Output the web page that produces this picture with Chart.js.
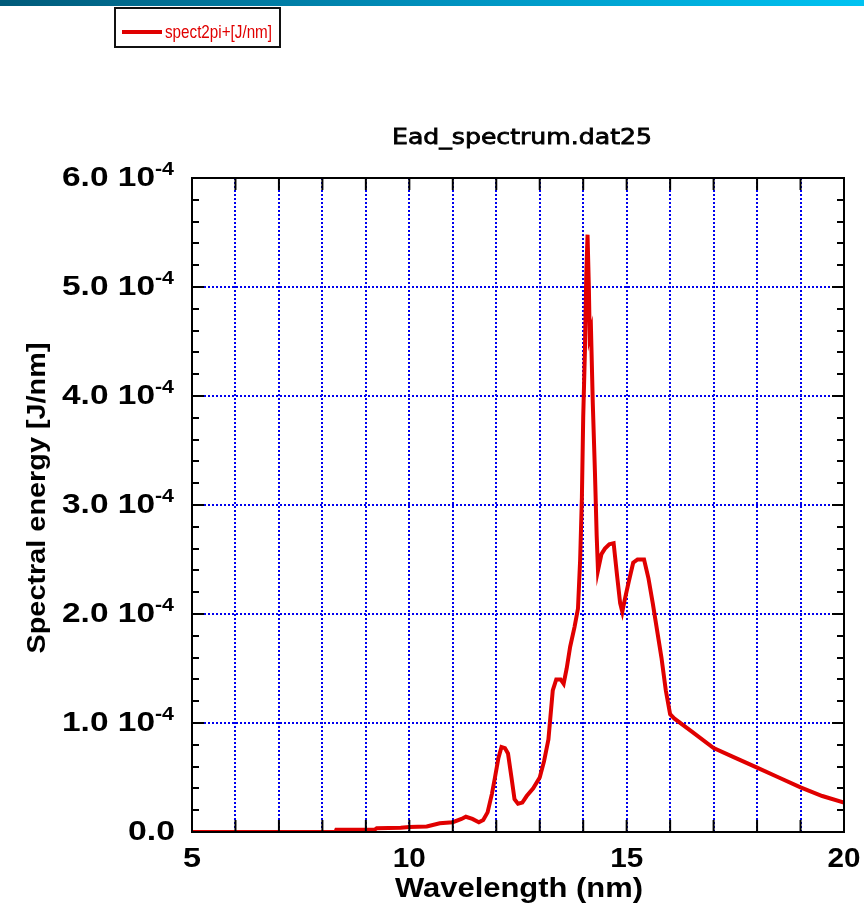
<!DOCTYPE html>
<html>
<head>
<meta charset="utf-8">
<title>Ead_spectrum.dat25</title>
<script src="https://cdn.jsdelivr.net/npm/chart.js@4.4.1/dist/chart.umd.min.js"></script>
<style>
  body { margin: 0; background: #fff; }
  .wrap { position: relative; width: 864px; height: 906px; }
  .topbar { position: absolute; left: 0; top: 0; width: 864px; height: 6px;
            background: linear-gradient(to right, #005a79, #0090bd 50%, #00c3f2); }
  canvas { display: block; }
</style>
</head>
<body>
<div class="wrap">
  <canvas id="spectrum" width="864" height="906"></canvas>
  <div class="topbar"></div>
</div>
<script>
// spectrum samples: wavelength in nm, energy in J/nm
const wavelength = [
  5.0, 8.3, 8.32, 9.2, 9.25, 9.8, 10.0, 10.4, 10.7, 11.0, 11.2, 11.3, 11.45, 11.6, 11.7,
  11.8, 11.9, 11.97, 12.05, 12.12, 12.2, 12.27, 12.35, 12.42, 12.5, 12.6, 12.7, 12.85,
  13.0, 13.1, 13.2, 13.3, 13.38, 13.48, 13.55, 13.62, 13.7, 13.8, 13.88, 13.93, 13.97,
  14.0, 14.04, 14.07, 14.1, 14.13, 14.15, 14.18, 14.22, 14.27, 14.31, 14.34, 14.42, 14.5,
  14.6, 14.7, 14.78, 14.85, 14.9, 14.95, 15.05, 15.15, 15.25, 15.4, 15.5, 15.6, 15.7,
  15.8, 15.9, 16.0, 16.1, 16.5, 17.0, 17.5, 18.0, 18.5, 19.0, 19.5, 20.0
];
const energy = [
  0, 0, 0.02e-4, 0.02e-4, 0.035e-4, 0.04e-4, 0.045e-4, 0.05e-4, 0.08e-4, 0.09e-4, 0.12e-4,
  0.14e-4, 0.12e-4, 0.09e-4, 0.11e-4,
  0.18e-4, 0.35e-4, 0.5e-4, 0.68e-4, 0.78e-4, 0.77e-4, 0.72e-4, 0.5e-4, 0.3e-4, 0.26e-4,
  0.27e-4, 0.33e-4, 0.4e-4,
  0.5e-4, 0.65e-4, 0.85e-4, 1.3e-4, 1.4e-4, 1.4e-4, 1.36e-4, 1.5e-4, 1.7e-4, 1.88e-4,
  2.05e-4, 2.5e-4, 3.07e-4,
  3.8e-4, 4.42e-4, 5.1e-4, 5.48e-4, 5.0e-4, 4.55e-4, 4.6e-4, 3.94e-4, 3.3e-4, 2.72e-4,
  2.4e-4, 2.55e-4, 2.6e-4,
  2.64e-4, 2.65e-4, 2.35e-4, 2.1e-4, 2.02e-4, 2.12e-4, 2.3e-4, 2.47e-4, 2.5e-4, 2.5e-4,
  2.33e-4, 2.1e-4, 1.85e-4,
  1.6e-4, 1.3e-4, 1.08e-4, 1.04e-4, 0.92e-4, 0.77e-4, 0.68e-4, 0.59e-4, 0.5e-4, 0.41e-4,
  0.33e-4, 0.27e-4
];

const xLabels = [5, 10, 15, 20];
const yTicks = [0, 1e-4, 2e-4, 3e-4, 4e-4, 5e-4, 6e-4];
const yMantissa = ['0.0', '1.0', '2.0', '3.0', '4.0', '5.0', '6.0'];
const yExponent = '-4';

const seriesName = 'spect2pi+[J/nm]';
const titleText = 'Ead_spectrum.dat25';
const xTitle = 'Wavelength (nm)';
const yTitle = 'Spectral energy [J/nm]';

const RED = '#e00000';
const BOLD = 'bold 28px "Liberation Sans", Arial, sans-serif';

// draw text squeezed/stretched horizontally to a given width
function fitText(ctx, text, x, y, font, width, align, angle, stroke) {
  ctx.save();
  ctx.font = font;
  const sx = width / ctx.measureText(text).width;
  ctx.translate(x, y);
  if (angle) ctx.rotate(angle);
  ctx.scale(sx, 1);
  ctx.textAlign = align;
  ctx.textBaseline = 'alphabetic';
  ctx.fillText(text, 0, 0);
  if (stroke) {
    ctx.strokeStyle = ctx.fillStyle;
    ctx.lineWidth = stroke;
    ctx.strokeText(text, 0, 0);
  }
  ctx.restore();
}

const decorations = {
  id: 'decorations',
  afterDraw(chart) {
    const { ctx, chartArea: a, scales: { x, y } } = chart;
    ctx.save();

    // frame and inward ticks
    ctx.strokeStyle = '#000';
    ctx.lineWidth = 2;
    ctx.strokeRect(a.left, a.top, a.right - a.left, a.bottom - a.top);
    ctx.beginPath();
    for (let v = x.min; v <= x.max; v++) {
      const px = x.getPixelForValue(v);
      ctx.moveTo(px, a.bottom); ctx.lineTo(px, a.bottom - 12);
      ctx.moveTo(px, a.top); ctx.lineTo(px, a.top + 12);
    }
    for (let i = 0; i <= 30; i++) {
      const py = Math.round(y.getPixelForValue(i * 0.2e-4));
      const len = i % 5 === 0 ? 12 : 7;
      ctx.moveTo(a.left, py); ctx.lineTo(a.left + len, py);
      ctx.moveTo(a.right, py); ctx.lineTo(a.right - len, py);
    }
    ctx.stroke();

    ctx.fillStyle = '#000';
    // x tick labels
    xLabels.forEach(v => {
      const px = x.getPixelForValue(v);
      const w = String(v).length > 1 ? 33 : 18;
      fitText(ctx, String(v), px, 867, BOLD, w, 'center');
    });
    // y tick labels with power-of-ten suffix
    yTicks.forEach((v, i) => {
      const py = y.getPixelForValue(v);
      if (v === 0) {
        fitText(ctx, yMantissa[i], 175, py + 8, BOLD, 47, 'right');
        return;
      }
      fitText(ctx, yMantissa[i] + ' 10', 155, py + 8, BOLD, 93, 'right');
      fitText(ctx, yExponent, 174, py - 3, 'bold 18px "Liberation Sans", Arial, sans-serif', 19, 'right');
    });

    // axis titles and plot title
    fitText(ctx, xTitle, 519, 897, BOLD, 248, 'center');
    fitText(ctx, yTitle, 45, 498, 'bold 26px "Liberation Sans", Arial, sans-serif', 311, 'center', -Math.PI / 2);
    fitText(ctx, titleText, 522, 144, '22px "DejaVu Sans", sans-serif', 260, 'center', 0, 0.8);

    // legend box
    ctx.lineWidth = 2;
    ctx.strokeStyle = '#111';
    ctx.strokeRect(115, 8, 165, 39);
    ctx.strokeStyle = RED;
    ctx.lineWidth = 4;
    ctx.beginPath();
    ctx.moveTo(122, 32); ctx.lineTo(162, 32);
    ctx.stroke();
    ctx.fillStyle = RED;
    fitText(ctx, seriesName, 165, 38, '19px "Liberation Sans", Arial, sans-serif', 107, 'left');

    ctx.restore();
  }
};

const gridStyle = {
  color: '#0000ee',
  lineWidth: 2,
  drawTicks: false
};

new Chart(document.getElementById('spectrum'), {
  type: 'line',
  data: {
    datasets: [{
      label: seriesName,
      data: wavelength.map((w, i) => ({ x: w, y: energy[i] })),
      borderColor: RED,
      borderWidth: 4,
      pointRadius: 0,
      tension: 0,
      fill: false
    }]
  },
  options: {
    responsive: false,
    animation: false,
    devicePixelRatio: 1,
    layout: { padding: { top: 178, right: 20, left: 0, bottom: 0 } },
    plugins: { legend: { display: false }, title: { display: false }, tooltip: { enabled: false } },
    scales: {
      x: {
        type: 'linear',
        min: 5,
        max: 20,
        ticks: { display: false, stepSize: 1 },
        grid: gridStyle,
        border: { display: false, dash: [2, 2] },
        afterFit(scale) { scale.height = 74; }
      },
      y: {
        min: 0,
        max: 6e-4,
        ticks: { display: false, stepSize: 1e-4 },
        grid: gridStyle,
        border: { display: false, dash: [2, 2] },
        afterFit(scale) { scale.width = 192; }
      }
    }
  },
  plugins: [decorations]
});
</script>
</body>
</html>
